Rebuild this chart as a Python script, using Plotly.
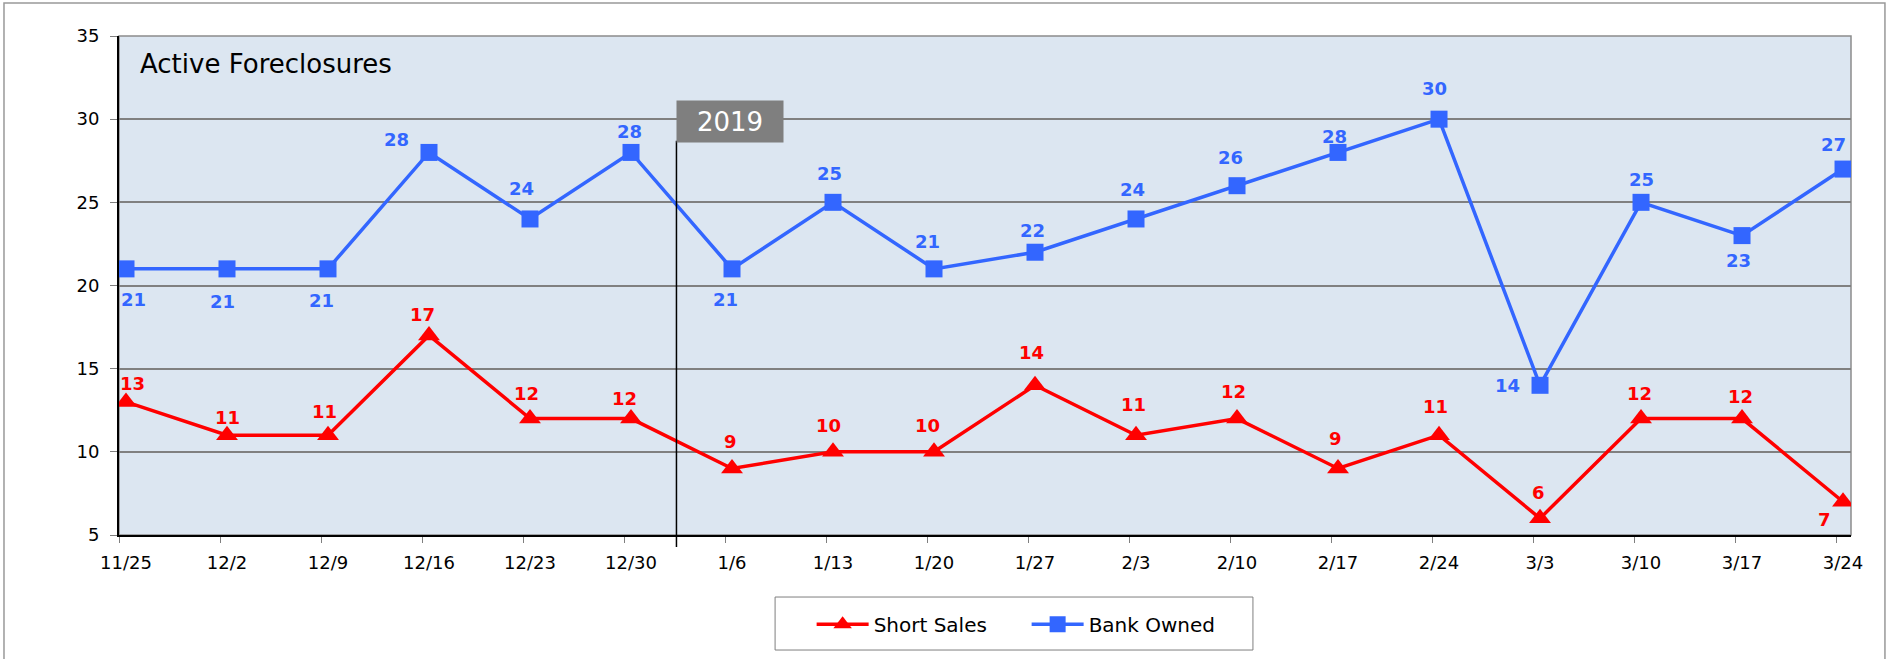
import plotly.graph_objects as go

dates = ["11/25", "12/2", "12/9", "12/16", "12/23", "12/30", "1/6", "1/13", "1/20",
         "1/27", "2/3", "2/10", "2/17", "2/24", "3/3", "3/10", "3/17", "3/24"]
short_sales = [13, 11, 11, 17, 12, 12, 9, 10, 10, 14, 11, 12, 9, 11, 6, 12, 12, 7]
bank_owned = [21, 21, 21, 28, 24, 28, 21, 25, 21, 22, 24, 26, 28, 30, 14, 25, 23, 27]

# label offsets (pixels, dx right, dy down) - styling only
ss_off = [(5, -15), (0, -15), (-3, -20), (-5, -17), (-3, -21), (-5, -17), (-1, -22), (-4, -22),
          (-5, -22), (-3, -27), (-2, -25), (-3, -22), (-2, -25), (-3, -24), (-1, -21), (-1, -21),
          (-1, -18), (-15, 15)]
bo_off = [(6, 25), (-4, 27), (-5, 26), (-27, -11), (-7, -25), (-1, -17), (-5, 25), (-3, -24),
          (-5, -23), (-2, -18), (-3, -24), (-5, -23), (-3, -13), (-4, -25), (-27, 0), (0, -19),
          (-3, 21), (-8, -20)]

RED = "#ff0000"
BLUE = "#3366ff"
FONT = "DejaVu Sans"
S = 1.2086

xs = list(range(len(dates)))

fig = go.Figure()
fig.add_trace(go.Scatter(x=xs, y=short_sales, mode="lines+markers", name="Short Sales",
                         line=dict(color=RED, width=3.5),
                         marker=dict(symbol="triangle-up", size=19, color=RED)))
fig.add_trace(go.Scatter(x=xs, y=bank_owned, mode="lines+markers", name="Bank Owned",
                         line=dict(color=BLUE, width=3.5),
                         marker=dict(symbol="square", size=17, color=BLUE)))

ann = []
for i, v in enumerate(short_sales):
    dx, dy = ss_off[i]
    ann.append(dict(x=i, y=v, text=f"<b>{v}</b>", showarrow=False, xshift=dx * S, yshift=-dy * S,
                    font=dict(family=FONT, size=18, color=RED)))
for i, v in enumerate(bank_owned):
    dx, dy = bo_off[i]
    ann.append(dict(x=i, y=v, text=f"<b>{v}</b>", showarrow=False, xshift=dx * S, yshift=-dy * S,
                    font=dict(family=FONT, size=18, color=BLUE)))

ann.append(dict(x=0.011, y=0.943, xref="paper", yref="paper", xanchor="left", yanchor="middle",
                text="Active Foreclosures", showarrow=False,
                font=dict(family=FONT, size=26, color="black")))
ann.append(dict(x=5.45, y=0.872, xref="x", yref="paper", xanchor="left", yanchor="top",
                text="2019", showarrow=False, bgcolor="#7f7f7f", width=106, height=41,
                borderpad=0, font=dict(family=FONT, size=26, color="white")))

shapes = [
    dict(type="rect", xref="paper", yref="paper", x0=0, x1=1, y0=0, y1=1,
         line=dict(color="#8c8c8c", width=1.5), layer="below"),
    dict(type="line", xref="x", yref="paper", x0=5.45, x1=5.45, y0=-0.024, y1=0.79,
         line=dict(color="black", width=1.5)),
    dict(type="rect", xref="paper", yref="paper", x0=-0.0664, x1=1.0196, y0=-0.26, y1=1.066,
         line=dict(color="#999999", width=1.5)),
    # legend frame
    dict(type="rect", xref="paper", yref="paper", x0=0.3788, x1=0.6547, y0=-0.2305, y1=-0.1243,
         line=dict(color="#7f7f7f", width=1)),
]

fig.update_layout(
    width=1895, height=659,
    margin=dict(l=119, r=44, t=36, b=124),
    paper_bgcolor="white",
    plot_bgcolor="#dce6f1",
    font=dict(family=FONT, color="black"),
    showlegend=True,
    legend=dict(orientation="h", x=0.3999, xanchor="left", y=-0.14, yanchor="top",
                borderwidth=0, bgcolor="rgba(0,0,0,0)", font=dict(family=FONT, size=20),
                entrywidth=148, itemwidth=52),
    annotations=ann,
    shapes=shapes,
)
fig.update_xaxes(range=[-0.0693, 17.079], tickmode="array", tickvals=xs, ticktext=dates,
                 ticks="", showgrid=False, zeroline=False, showline=True, linecolor="black",
                 linewidth=2, tickfont=dict(family=FONT, size=18), ticklabelstandoff=10,
                 minor=dict(tickmode="array", tickvals=[i - 0.06 for i in xs], ticks="outside",
                            ticklen=6, tickcolor="#7f7f7f", tickwidth=1, showgrid=False))
fig.update_yaxes(range=[5, 35], dtick=5, tick0=5, ticks="outside", ticklen=7, tickcolor="#7f7f7f",
                 showgrid=True, gridcolor="#808080", gridwidth=1.5, zeroline=False,
                 showline=True, linecolor="black", linewidth=2,
                 tickfont=dict(family=FONT, size=18), ticklabelstandoff=7)

fig.write_html("out.html", config={"displayModeBar": False},
               post_script="document.body.style.margin='0';document.body.style.overflow='hidden';")
